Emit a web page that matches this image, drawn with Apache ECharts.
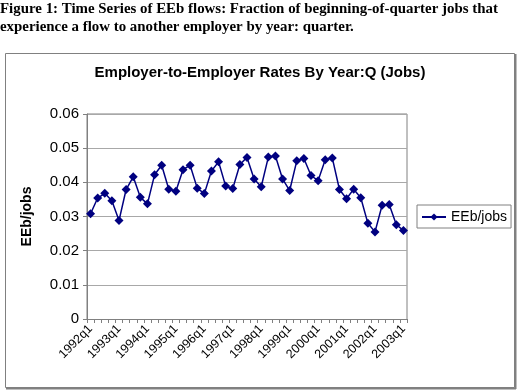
<!DOCTYPE html>
<html>
<head>
<meta charset="utf-8">
<script src="https://cdn.jsdelivr.net/npm/echarts@6/dist/echarts.min.js"></script>
<style>
html,body{margin:0;padding:0;background:#fff;}
#chart{width:517px;height:391px;}
</style>
</head>
<body>
<div id="chart"></div>
<script>
const years = [1992,1993,1994,1995,1996,1997,1998,1999,2000,2001,2002,2003];
const quarters = ['q1','q2','q3','q4'];
const categories = [];
years.forEach(y => quarters.forEach(q => categories.push(y + q)));
categories.length = 45; // 1992q1 .. 2003q1

const eebJobs = [
  0.0308,0.0354,0.0368,0.0346,
  0.0288,0.0379,0.0416,0.0356,
  0.0337,0.0422,0.0450,0.0380,
  0.0374,0.0437,0.0450,0.0383,
  0.0367,0.0433,0.0460,0.0389,
  0.0382,0.0452,0.0473,0.0410,
  0.0387,0.0474,0.0477,0.0410,
  0.0376,0.0463,0.0470,0.0420,
  0.0405,0.0466,0.0471,0.0379,
  0.0352,0.0380,0.0355,0.0280,
  0.0255,0.0333,0.0335,0.0276,
  0.0259
];

const captionLines = [
  'Figure 1: Time Series of EEb flows: Fraction of beginning-of-quarter jobs that',
  'experience a flow to another employer by year: quarter.'
];
const chartTitle = 'Employer-to-Employer Rates By Year:Q (Jobs)';
const seriesName = 'EEb/jobs';

const chart = echarts.init(document.getElementById('chart'), null, {renderer: 'canvas'});
chart.setOption({
  animation: false,
  backgroundColor: '#fff',
  graphic: [
    {type: 'rect', shape: {x: 5.5, y: 53.5, width: 509, height: 334}, style: {fill: 'none', stroke: '#808080', lineWidth: 1}, z: -1},
    {type: 'line', shape: {x1: 515.5, y1: 54, x2: 515.5, y2: 389}, style: {stroke: '#808080', lineWidth: 2}, z: -1},
    {type: 'line', shape: {x1: 6, y1: 388.5, x2: 516, y2: 388.5}, style: {stroke: '#808080', lineWidth: 2}, z: -1},
    {type: 'rect', shape: {x: 87, y: 114, width: 320, height: 205.5}, style: {fill: 'none', stroke: '#808080', lineWidth: 1}, z: 0},
    {type: 'text', left: 0, top: 2, style: {text: captionLines[0], font: 'bold 14.9px "Liberation Serif"', fill: '#000'}},
    {type: 'text', left: 0, top: 20, style: {text: captionLines[1], font: 'bold 14.9px "Liberation Serif"', fill: '#000'}},
    {type: 'text', x: 260, y: 73, style: {text: chartTitle, font: 'bold 15px "Liberation Sans", Arial', fill: '#000', align: 'center', verticalAlign: 'middle'}}
  ],
  legend: {
    data: [seriesName],
    left: 417,
    top: 205,
    orient: 'vertical',
    borderColor: '#808080',
    borderWidth: 1,
    padding: [5, 4, 4, 4],
    itemWidth: 24,
    itemHeight: 9,
    itemGap: 4,
    textStyle: {fontFamily: '"Liberation Sans", Arial', fontSize: 14, color: '#000'}
  },
  grid: {left: 87, right: 110, top: 114, bottom: 72, containLabel: false},
  xAxis: {
    type: 'category',
    data: categories,
    boundaryGap: true,
    axisLine: {lineStyle: {color: '#808080', width: 1}},
    axisTick: {show: true, interval: 0, length: 4, alignWithLabel: false, lineStyle: {color: '#808080'}},
    axisLabel: {interval: 3, rotate: 45, fontFamily: '"Liberation Sans", Arial', fontSize: 12.5, color: '#000', margin: 8},
    splitLine: {show: false}
  },
  yAxis: {
    type: 'value',
    min: 0,
    max: 0.06,
    interval: 0.01,
    name: seriesName,
    nameLocation: 'middle',
    nameGap: 53,
    nameRotate: 90,
    nameTextStyle: {fontFamily: '"Liberation Sans", Arial', fontSize: 14, fontWeight: 'bold', color: '#000'},
    axisLine: {show: true, lineStyle: {color: '#808080', width: 1}},
    axisTick: {show: true, length: 4, lineStyle: {color: '#808080'}},
    axisLabel: {fontFamily: '"Liberation Sans", Arial', fontSize: 15, color: '#000', margin: 8},
    splitLine: {show: true, lineStyle: {color: '#a8a8a8', width: 1}}
  },
  series: [{
    name: seriesName,
    type: 'line',
    data: eebJobs,
    symbol: 'diamond',
    symbolSize: 9,
    showAllSymbol: true,
    lineStyle: {color: '#000080', width: 1.5},
    itemStyle: {color: '#000080', borderWidth: 0}
  }]
});
</script>
</body>
</html>
